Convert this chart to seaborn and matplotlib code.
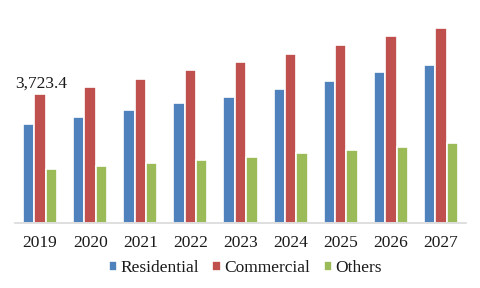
import matplotlib
matplotlib.use("Agg")
import matplotlib.pyplot as plt
import seaborn as sns
import pandas as pd

years = ["2019", "2020", "2021", "2022", "2023", "2024", "2025", "2026", "2027"]
residential = [2860, 3060, 3260, 3460, 3650, 3880, 4105, 4355, 4565]
commercial = [3723.4, 3945, 4175, 4410, 4660, 4890, 5145, 5405, 5645]
others = [1560, 1655, 1745, 1830, 1925, 2025, 2110, 2210, 2310]
series = ["Residential", "Commercial", "Others"]
colors = ["#4F81BD", "#C0504D", "#9BBB59"]

df = pd.DataFrame({
    "year": years * 3,
    "value": residential + commercial + others,
    "series": [series[0]] * 9 + [series[1]] * 9 + [series[2]] * 9,
})

sns.set_style("white")
plt.rcParams["font.family"] = ["Liberation Serif", "DejaVu Serif"]

fig = plt.figure(figsize=(4.81, 2.88), dpi=100)
ax = fig.add_axes([15 / 481, (288 - 223.4) / 288, 451 / 481, (223.4 - 10) / 288])

sns.barplot(data=df, x="year", y="value", hue="series", palette=colors,
            width=0.68, ax=ax, saturation=1, edgecolor="white", linewidth=1.2)

ax.set_xlim(-0.5, 8.5)
ax.set_ylim(0, 6150)
ax.set_xlabel("")
ax.set_ylabel("")
ax.set_yticks([])
for s in ["top", "right", "left"]:
    ax.spines[s].set_visible(False)
ax.spines["bottom"].set_color("#d9d9d9")
ax.spines["bottom"].set_linewidth(1.2)
ax.tick_params(axis="x", length=0, pad=8, labelsize=12.5, colors="#1a1a1a")

# data label on first commercial bar
ax.annotate("3,723.4", xy=(0, commercial[0]), xytext=(1, 2), textcoords="offset points",
            ha="center", va="bottom", fontsize=12.5, color="#1a1a1a")

leg = ax.legend(loc="center", bbox_to_anchor=(0.51, -0.209), ncol=3, frameon=False,
                fontsize=12.5, handlelength=0.5, handleheight=0.5, handletextpad=0.15,
                columnspacing=0.8, borderaxespad=0)
for t in leg.get_texts():
    t.set_color("#1a1a1a")

fig.savefig("out.png", dpi=100)
